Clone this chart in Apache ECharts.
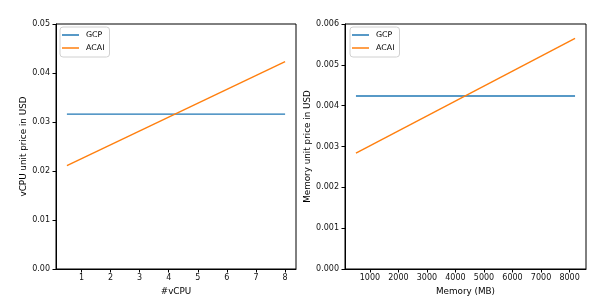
<!DOCTYPE html>
<html><head><meta charset="utf-8">
<script src="https://cdn.jsdelivr.net/npm/echarts@6/dist/echarts.min.js"></script>
<style>html,body{margin:0;padding:0;background:#fff}#c{width:608px;height:308px}</style>
</head><body><div id="c"></div>
<script>
// Data
const seriesNames = ['GCP', 'ACAI'];
const cpuX = [0.5, 8];
const cpuGCP = [0.031611, 0.031611];
const cpuACAI = [0.0211, 0.0423];
const memX = [512, 8192];
const memGCP = [0.004237, 0.004237];
const memACAI = [0.00284, 0.00565];
const cpuTicks = [1, 2, 3, 4, 5, 6, 7, 8];
const memTicks = [1000, 2000, 3000, 4000, 5000, 6000, 7000, 8000];

const FONT = 'DejaVu Sans';
const FS = 8;
const NFS = 8.8;
const colors = ['#1f77b4', '#ff7f0e'];
const pair = (xs, ys) => xs.map((x, i) => [x, ys[i]]);

const chart = echarts.init(document.getElementById('c'), null, {renderer: 'canvas'});
const xAxisCommon = {
  type: 'value', nameLocation: 'middle', nameGap: 15,
  nameTextStyle: {fontFamily: FONT, fontSize: NFS, color: '#000'},
  axisLine: {show: true, lineStyle: {color: '#000', width: 1}},
  axisTick: {show: true, inside: false, length: 3.5, lineStyle: {color: '#000'}},
  axisLabel: {fontFamily: FONT, fontSize: FS, color: '#111', margin: 5, formatter: v => String(v)},
  splitLine: {show: false}
};
const yAxisCommon = {
  type: 'value', nameLocation: 'middle',
  nameTextStyle: {fontFamily: FONT, fontSize: NFS, color: '#000'},
  axisLine: {show: true, lineStyle: {color: '#000', width: 1}},
  axisTick: {show: true, inside: false, length: 3.5, lineStyle: {color: '#000'}},
  splitLine: {show: false}
};
const legendCommon = {
  orient: 'vertical', data: seriesNames, icon: 'rect', itemWidth: 17, itemHeight: 1.5, itemGap: 5,
  padding: [4, 5, 5, 2], borderColor: '#d0d0d0', borderWidth: 1, borderRadius: 3,
  backgroundColor: 'rgba(255,255,255,0.8)',
  textStyle: {fontFamily: FONT, fontSize: 7.9, color: '#000', padding: [0, 0, 0, 2]}
};
const lineSeries = (name, data, xi, ci) => ({
  name, type: 'line', data, xAxisIndex: xi, yAxisIndex: xi, symbol: 'none',
  lineStyle: {color: colors[ci], width: 1.4}, itemStyle: {color: colors[ci]},
  animation: false
});

chart.setOption({
  animation: false,
  grid: [
    {left: 56, top: 24, width: 240, height: 245, show: true, borderColor: '#000', borderWidth: 1, backgroundColor: 'transparent'},
    {left: 345, top: 24, width: 241, height: 245, show: true, borderColor: '#000', borderWidth: 1, backgroundColor: 'transparent'}
  ],
  legend: [
    Object.assign({left: 60, top: 27}, legendCommon),
    Object.assign({left: 350, top: 27}, legendCommon)
  ],
  xAxis: [
    Object.assign({}, xAxisCommon, {gridIndex: 0, name: '#vCPU', min: 0.125, max: 8.375,
      axisTick: Object.assign({}, xAxisCommon.axisTick, {customValues: cpuTicks}),
      axisLabel: Object.assign({}, xAxisCommon.axisLabel, {customValues: cpuTicks})}),
    Object.assign({}, xAxisCommon, {gridIndex: 1, name: 'Memory (MB)', min: 128, max: 8576,
      axisTick: Object.assign({}, xAxisCommon.axisTick, {customValues: memTicks}),
      axisLabel: Object.assign({}, xAxisCommon.axisLabel, {customValues: memTicks})})
  ],
  yAxis: [
    Object.assign({}, yAxisCommon, {gridIndex: 0, name: 'vCPU unit price in USD', nameGap: 28,
      min: 0, max: 0.05, interval: 0.01,
      axisLabel: {fontFamily: FONT, fontSize: FS, color: '#111', margin: 6, formatter: v => v.toFixed(2)}}),
    Object.assign({}, yAxisCommon, {gridIndex: 1, name: 'Memory unit price in USD', nameGap: 32,
      min: 0, max: 0.006, interval: 0.001,
      axisLabel: {fontFamily: FONT, fontSize: FS, color: '#111', margin: 6, formatter: v => v.toFixed(3)}})
  ],
  series: [
    lineSeries('GCP', pair(cpuX, cpuGCP), 0, 0),
    lineSeries('ACAI', pair(cpuX, cpuACAI), 0, 1),
    lineSeries('GCP', pair(memX, memGCP), 1, 0),
    lineSeries('ACAI', pair(memX, memACAI), 1, 1)
  ]
});
</script></body></html>
